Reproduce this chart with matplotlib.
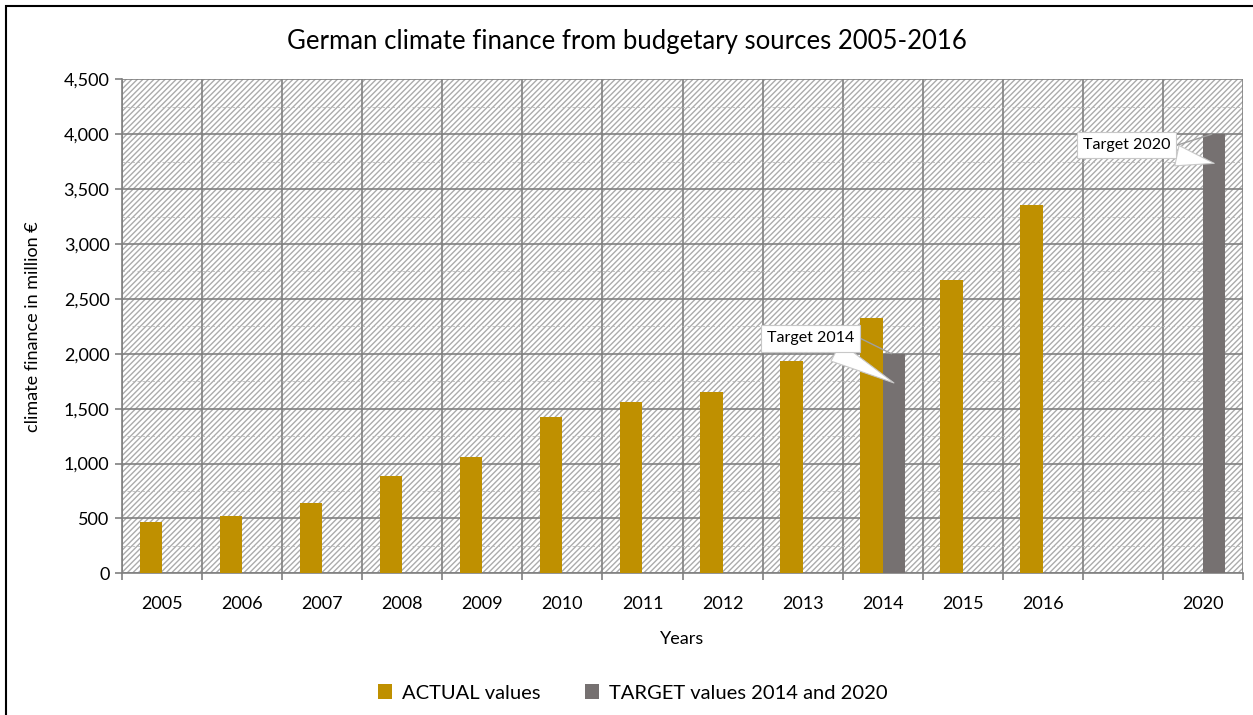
import numpy as np
import matplotlib.pyplot as plt
from matplotlib.patches import Rectangle
from matplotlib.transforms import offset_copy

plt.rcParams['font.family'] = ['Lato', 'DejaVu Sans']
plt.rcParams['hatch.linewidth'] = 1.0

# data
years = ['2005', '2006', '2007', '2008', '2009', '2010', '2011', '2012',
         '2013', '2014', '2015', '2016', '', '2020']
actual = [466, 521, 644, 890, 1057, 1421, 1557, 1651, 1936, 2330, 2670, 3357,
          np.nan, np.nan]
target = [np.nan] * 9 + [2000, np.nan, np.nan, np.nan, 4000]

c_actual = '#BF9000'
c_target = '#767171'
grid_c = '#808080'

fig = plt.figure(figsize=(12.53, 7.15), dpi=100)
ax = fig.add_axes([122 / 1253, 1 - 573.3 / 715, (1243 - 122) / 1253, (573.3 - 79.3) / 715])

x = np.arange(len(years))
w = 0.28

# hatched plot area
bg = Rectangle((0, 0), 1, 1, transform=ax.transAxes, facecolor='white',
               edgecolor='#ababab', hatch='//////', lw=0, zorder=0)
ax.add_patch(bg)
ax.set_facecolor('white')

ax.bar(x - w / 2, actual, w, color=c_actual, label='ACTUAL values', zorder=3)
ax.bar(x + w / 2, target, w, color=c_target, label='TARGET values 2014 and 2020', zorder=3)

ax.set_xlim(-0.5, len(years) - 0.5)
ax.set_ylim(0, 4500)
ax.set_yticks(np.arange(0, 4501, 500))
ax.set_yticks(np.arange(250, 4500, 500), minor=True)
ax.yaxis.set_major_formatter(plt.FuncFormatter(lambda v, p: f'{int(v):,}'))
ax.set_xticks(x)
ax.set_xticklabels(years)
ax.set_xticks(np.arange(-0.5, len(years), 1), minor=True)

ax.grid(which='major', axis='y', color=grid_c, lw=1.2, zorder=1)
ax.grid(which='minor', axis='x', color=grid_c, lw=1.2, zorder=1)
ax.grid(which='minor', axis='y', color='#b8b8b8', lw=0.6, ls=(0, (3, 3)), zorder=1)

ax.tick_params(axis='x', which='major', length=0, labelsize=13, pad=16)
ax.tick_params(axis='x', which='minor', length=5, color=grid_c, width=1.2)
ax.tick_params(axis='y', which='major', length=5, color=grid_c, width=1.2, labelsize=13, pad=4)
ax.tick_params(axis='y', which='minor', length=0)
for s in ['top', 'right']:
    ax.spines[s].set_visible(False)
for s in ['left', 'bottom']:
    ax.spines[s].set_color(grid_c)
    ax.spines[s].set_linewidth(1.2)

ax.set_xlabel('Years', fontsize=13, labelpad=14)
ax.set_ylabel('climate finance in million €', fontsize=13, labelpad=16)
fig.text(0.5, 1 - 41 / 715, 'German climate finance from budgetary sources 2005-2016',
         ha='center', va='center', fontsize=18.5)

# callouts for target values
callouts = [(9, 2000, 'Target 2014', -60, 11), (13, 4000, 'Target 2020', -63, -8)]
for i, v, txt, dx, dy in callouts:
    bx = i + w / 2
    tip = offset_copy(ax.transData, fig=fig, x=0, y=-21, units='points')
    tpos = offset_copy(ax.transData, fig=fig, x=dx, y=dy, units='points')
    edge = offset_copy(ax.transData, fig=fig, x=dx + 36, y=dy, units='points')
    ax.annotate('', xy=(bx - 0.03, v), xytext=(bx, v), xycoords='data',
                textcoords=edge,
                arrowprops=dict(arrowstyle='-', color='#a0a0a0', lw=1,
                                shrinkA=0, shrinkB=0), zorder=5)
    ax.annotate(txt, xy=(bx, v), xycoords=tip, xytext=(bx, v), textcoords=tpos,
                ha='center', va='center', fontsize=11.5, zorder=6,
                bbox=dict(boxstyle='square,pad=0.38', fc='white', ec='#c8c8c8', lw=0.8),
                arrowprops=dict(arrowstyle='wedge,tail_width=1.3', fc='white',
                                ec='#c8c8c8', lw=0.8, shrinkA=0, shrinkB=0))

fig.legend(loc='center', bbox_to_anchor=(0.505, 1 - 693 / 715), ncol=2, frameon=False,
           fontsize=14.5, handlelength=0.7, handleheight=0.7, columnspacing=2.2, handletextpad=0.5)

# outer chart border (left and top visible)
fig.patches.append(Rectangle((5.5 / 1253, -0.1), 1.2, 1 - 6.5 / 715 + 0.1,
                             transform=fig.transFigure, fill=False, ec='black', lw=1.5))

fig.savefig('out.png', dpi=100)
